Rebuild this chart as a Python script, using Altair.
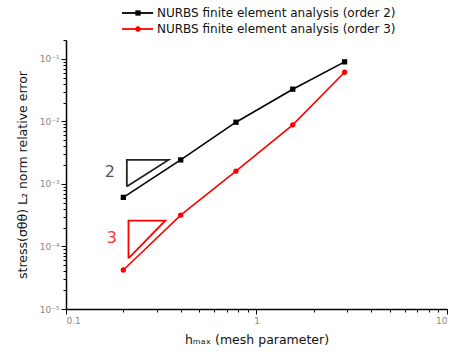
import altair as alt
import pandas as pd

# Convergence data: mesh size vs. relative stress error
h = [0.2, 0.4, 0.78, 1.55, 2.9]
err_order2 = [6.1e-4, 2.42e-3, 9.7e-3, 3.27e-2, 8.95e-2]
err_order3 = [4.2e-5, 3.16e-4, 1.6e-3, 8.8e-3, 6.1e-2]
series = ["NURBS finite element analysis (order 2)",
          "NURBS finite element analysis (order 3)"]
colors = ["#000000", "#ff0000"]
shapes = ["square", "circle"]

# Slope triangles (closed vertex lists)
tri2_x = [0.2086, 0.345, 0.2086, 0.2086]
tri2_y = [9.06e-4, 2.42e-3, 2.42e-3, 9.06e-4]
tri3_x = [0.2128, 0.332, 0.2128, 0.2128]
tri3_y = [6.47e-5, 2.59e-4, 2.59e-4, 6.47e-5]
slope_labels = ["2", "3"]
slope_label_x = [0.17, 0.174]
slope_label_y = [1.56e-3, 1.37e-4]
slope_colors = ["#555555", "#ff3333"]

# Log-axis tick positions (1..9 per decade)
x_ticks = [m * 10.0 ** e for e in (-1, 0) for m in range(1, 10)] + [10.0]
y_ticks = [m * 10.0 ** e for e in (-5, -4, -3, -2) for m in range(1, 10)] + [0.1, 0.2]

FONT = "DejaVu Sans"

df = pd.concat([
    pd.DataFrame({"h": h, "err": err_order2, "series": series[0]}),
    pd.DataFrame({"h": h, "err": err_order3, "series": series[1]}),
])

is_decade = "abs(log(datum.value)/LN10 - round(log(datum.value)/LN10)) < 1e-6"

x_scale = alt.Scale(type="log", domain=[0.1, 10], nice=False)
y_scale = alt.Scale(type="log", domain=[1e-5, 0.2], nice=False)

x_enc = alt.X("h:Q", scale=x_scale, axis=alt.Axis(
    title="hₘₐₓ (mesh parameter)",
    values=x_ticks, tickCount=100, labelOverlap=False,
    labelExpr=f"{is_decade} ? format(datum.value, '~g') : ''",
    tickSize={"condition": {"test": is_decade, "value": 5}, "value": 3},
    grid=False, titlePadding=8,
))
y_enc = alt.Y("err:Q", scale=y_scale, axis=alt.Axis(
    title="stress(σθθ) L₂ norm relative error",
    values=y_ticks, tickCount=100, labelOverlap=False,
    labelExpr=(f"{is_decade} ? '10' + ['⁰','⁻¹','⁻²','⁻³','⁻⁴','⁻⁵']"
               "[-round(log(datum.value)/LN10)] : ''"),
    tickSize={"condition": {"test": is_decade, "value": 5}, "value": 3},
    grid=False, titlePadding=10,
))
color_enc = alt.Color("series:N", scale=alt.Scale(domain=series, range=colors), legend=None)
shape_enc = alt.Shape("series:N", scale=alt.Scale(domain=series, range=shapes), legend=None)

lines = alt.Chart(df).mark_line(strokeWidth=1.6).encode(
    x=x_enc, y=y_enc, color=color_enc, detail="series:N")
points = alt.Chart(df).mark_point(filled=True, size=28, opacity=1).encode(
    x="h:Q", y="err:Q", color=color_enc, shape=shape_enc)

tri_layers = []
for tx, ty, col in [(tri2_x, tri2_y, "#222222"), (tri3_x, tri3_y, "#ff0000")]:
    tdf = pd.DataFrame({"h": tx, "err": ty, "k": range(len(tx))})
    tri_layers.append(alt.Chart(tdf).mark_line(color=col, strokeWidth=1.8).encode(
        x="h:Q", y="err:Q", order="k:Q"))

slope_text = []
for lab, lx, ly, col in zip(slope_labels, slope_label_x, slope_label_y, slope_colors):
    sdf = pd.DataFrame({"h": [lx], "err": [ly], "t": [lab]})
    slope_text.append(alt.Chart(sdf).mark_text(
        font=FONT, fontSize=16, color=col, align="center", baseline="middle"
    ).encode(x="h:Q", y="err:Q", text="t:N"))

# Legend drawn above the plot area
legend_layers = []
for i, (name, col, shp) in enumerate(zip(series, colors, shapes)):
    ldf = pd.DataFrame({"series": [name]})
    yy = -27 + 16 * i
    base = alt.Chart(ldf)
    legend_layers += [
        base.mark_rule(color=col, strokeWidth=1.8).encode(
            x=alt.value(56), x2=alt.value(87), y=alt.value(yy)),
        base.mark_point(filled=True, size=28, opacity=1, color=col, shape=shp).encode(
            x=alt.value(72), y=alt.value(yy)),
        base.mark_text(font=FONT, fontSize=12, color="#111111", align="left",
                       baseline="middle").encode(
            x=alt.value(91), y=alt.value(yy), text="series:N"),
    ]

chart = alt.layer(
    lines, points, *tri_layers, *slope_text, *legend_layers
).properties(
    width=381, height=269,
    padding={"left": 66, "top": 40, "right": 10, "bottom": 47},
    autosize="none",
    background="white",
).configure_view(stroke=None).configure_axis(
    domainColor="#000000", domainWidth=1.5, tickColor="#000000", tickWidth=1,
    labelColor="#888888", labelFont=FONT, labelFontSize=9,
    titleColor="#111111", titleFont=FONT, titleFontSize=12.5, titleFontWeight="normal",
)

chart.save("out.html", embed_options={"renderer": "svg", "actions": False})
